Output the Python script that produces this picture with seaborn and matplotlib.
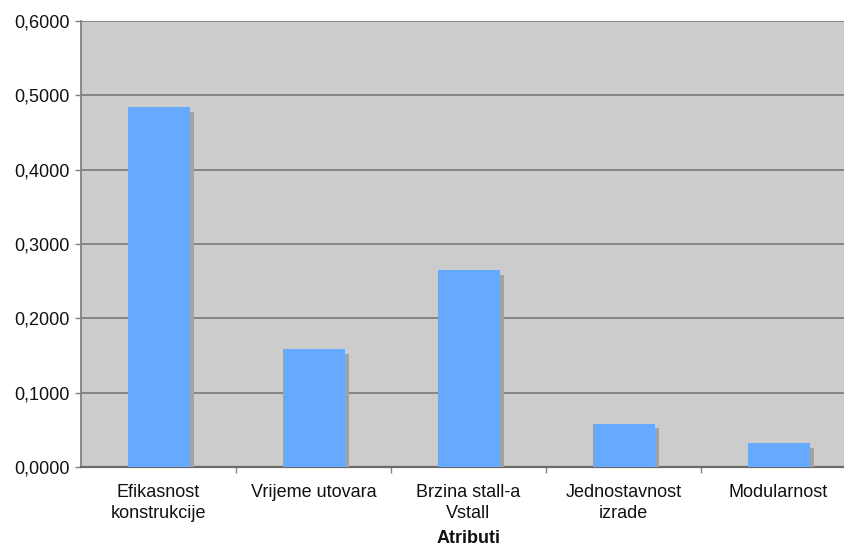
import matplotlib
matplotlib.use("Agg")
import matplotlib.pyplot as plt
import matplotlib.patheffects as pe
from matplotlib.ticker import FuncFormatter, MultipleLocator, FixedLocator
import seaborn as sns
import pandas as pd

categories = ["Efikasnost\nkonstrukcije", "Vrijeme utovara", "Brzina stall-a\nVstall",
              "Jednostavnost\nizrade", "Modularnost"]
values = [0.4845, 0.1590, 0.2650, 0.0585, 0.0325]
x_title = "Atributi"

df = pd.DataFrame({"atribut": categories, "tezina": values})

sns.set_theme(style="white")
plt.rcParams["font.family"] = ["Liberation Sans", "DejaVu Sans"]

fig = plt.figure(figsize=(8.45, 5.5), dpi=100)
ax = fig.add_axes([81 / 845, 83 / 550, 775 / 845, 446 / 550])
ax.set_facecolor("#cccccc")

sns.barplot(data=df, x="atribut", y="tezina", color="#66aaff", saturation=1,
            width=0.4, ax=ax, zorder=3)

for bar in ax.patches:
    bar.set_edgecolor("none")
    bar.set_path_effects([pe.SimplePatchShadow(offset=(3, -3.5), shadow_rgbFace="#a2a2a2", alpha=1.0),
                          pe.Normal()])

ax.set_ylim(0, 0.6)
ax.set_xlim(-0.5, len(categories) - 0.5)
ax.yaxis.set_major_locator(MultipleLocator(0.1))
ax.yaxis.set_major_formatter(FuncFormatter(lambda v, p: f"{v:.4f}".replace(".", ",")))
ax.grid(axis="y", color="#7f7f7f", linewidth=1.3, zorder=1)
ax.set_axisbelow(True)

ax.tick_params(axis="y", which="major", left=True, length=4, width=1, color="#808080",
               pad=4, labelsize=13, labelcolor="#111111")
ax.tick_params(axis="x", which="major", bottom=False, length=0, pad=12,
               labelsize=13, labelcolor="#111111")
ax.xaxis.set_minor_locator(FixedLocator([i + 0.5 for i in range(len(categories) - 1)]))
ax.tick_params(axis="x", which="minor", bottom=True, length=4, width=1, color="#808080")
for lbl in ax.get_xticklabels():
    lbl.set_linespacing(1.3)

ax.set_xlabel(x_title, fontsize=13, fontweight="bold", color="#111111", labelpad=6)
ax.set_ylabel("")

for side in ["top", "right"]:
    ax.spines[side].set_visible(False)
ax.spines["left"].set_color("#808080")
ax.spines["left"].set_linewidth(1.3)
ax.spines["bottom"].set_color("#6a6a6a")
ax.spines["bottom"].set_linewidth(1.6)

fig.savefig("out.png", dpi=100)
